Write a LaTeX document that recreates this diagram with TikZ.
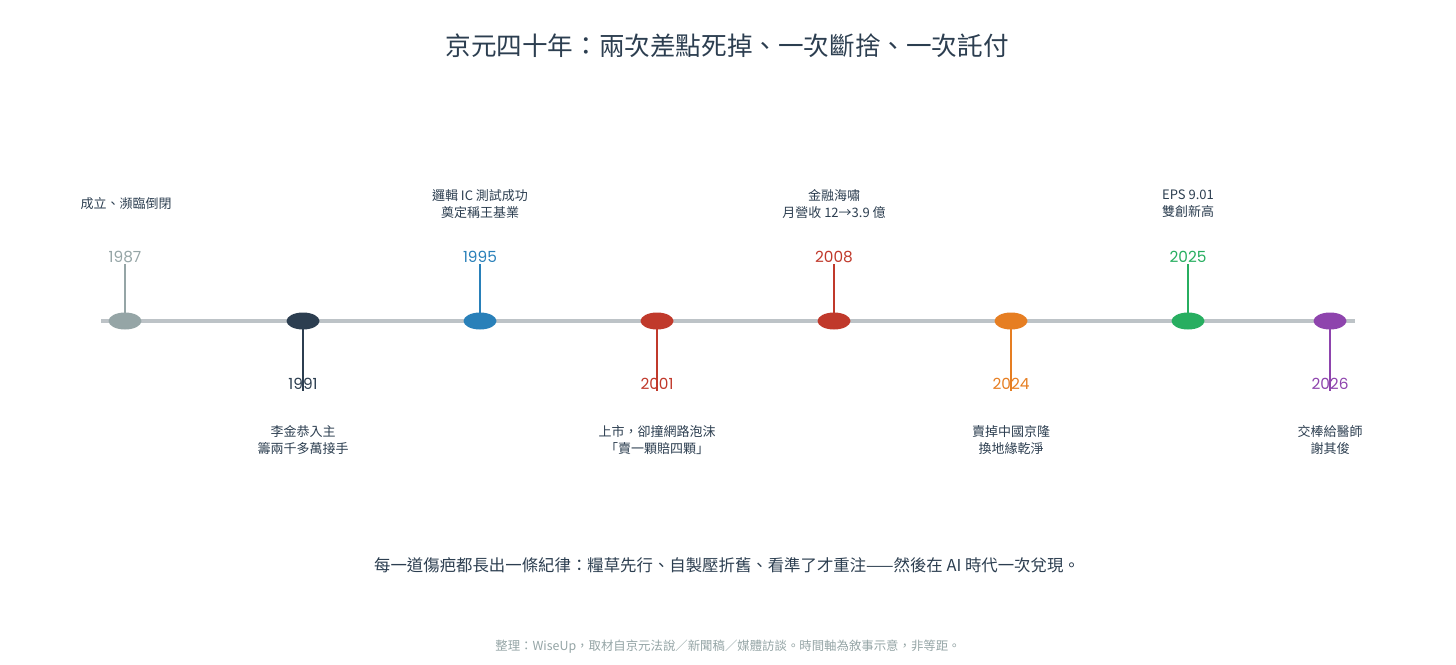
\documentclass[tikz,border=0pt]{standalone}
\usepackage{fontspec}
\setmainfont{Noto Sans CJK TC}
\newfontfamily\yearfont{Poppins}
\usetikzlibrary{positioning,shapes.geometric}
\definecolor{inkdark}{HTML}{2C3E50}
\definecolor{axisgray}{HTML}{BDC3C7}
\definecolor{notegray}{HTML}{95A5A6}
\definecolor{kygray}{HTML}{95A5A6}
\definecolor{kynavy}{HTML}{2C3E50}
\definecolor{kyblue}{HTML}{2980B9}
\definecolor{kyred}{HTML}{C0392B}
\definecolor{kyorange}{HTML}{E67E22}
\definecolor{kygreen}{HTML}{27AE60}
\definecolor{kypurple}{HTML}{8E44AD}
\tikzset{
    dot/.style={ellipse, fill=#1, inner sep=0pt,
                minimum width=24.75pt, minimum height=12.75pt},
    yr/.style={text=#1, inner sep=0.5pt, font=\yearfont\fontsize{11.5}{13}\selectfont},
    desc/.style={text=inkdark, align=center, inner sep=0pt,
                 font=\fontsize{9.75}{12.75}\selectfont},
    stem/.style={draw=#1, line width=1.5pt},
    axisline/.style={draw=axisgray, line width=3.5pt},
}

\begin{document}
\begin{tikzpicture}[x=0.75pt, y=-0.75pt]
    \useasboundingbox (0,0) rectangle (1456,664);

    % title
    \node[text=inkdark, font=\fontsize{19.2}{22}\selectfont] (title) at (727,46)
        {京元四十年：兩次差點死掉、一次斷捨、一次託付};

    % axis
    \coordinate (ax0) at (101,321);
    \coordinate (ax1) at (1355,321);
    \draw[axisline] (ax0) -- (ax1);

    % year labels
    \node[yr=kygray]   (y1987) at (125,257)  {1987};
    \node[yr=kynavy]   (y1991) at (303,384)  {1991};
    \node[yr=kyblue]   (y1995) at (480,257)  {1995};
    \node[yr=kyred]    (y2001) at (657,384)  {2001};
    \node[yr=kyred]    (y2008) at (834,257)  {2008};
    \node[yr=kyorange] (y2024) at (1011,384) {2024};
    \node[yr=kygreen]  (y2025) at (1188,257) {2025};
    \node[yr=kypurple] (y2026) at (1330,384) {2026};

    % markers on the axis
    \coordinate (c1987) at (125,321);
    \coordinate (c1991) at (303,321);
    \coordinate (c1995) at (480,321);
    \coordinate (c2001) at (657,321);
    \coordinate (c2008) at (834,321);
    \coordinate (c2024) at (1011,321);
    \coordinate (c2025) at (1188,321);
    \coordinate (c2026) at (1330,321);

    \draw[stem=kygray]   (c1987) -- (y1987.south);
    \draw[stem=kynavy]   (c1991) -- (y1991.south);
    \draw[stem=kyblue]   (c1995) -- (y1995.south);
    \draw[stem=kyred]    (c2001) -- (y2001.south);
    \draw[stem=kyred]    (c2008) -- (y2008.south);
    \draw[stem=kyorange] (c2024) -- (y2024.south);
    \draw[stem=kygreen]  (c2025) -- (y2025.south);
    \draw[stem=kypurple] (c2026) -- (y2026.south);

    \node[dot=kygray]   (m1987) at (c1987) {};
    \node[dot=kynavy]   (m1991) at (c1991) {};
    \node[dot=kyblue]   (m1995) at (c1995) {};
    \node[dot=kyred]    (m2001) at (c2001) {};
    \node[dot=kyred]    (m2008) at (c2008) {};
    \node[dot=kyorange] (m2024) at (c2024) {};
    \node[dot=kygreen]  (m2025) at (c2025) {};
    \node[dot=kypurple] (m2026) at (c2026) {};

    % event notes
    \node[desc] (d1987) at (126,204)  {成立、瀕臨倒閉};
    \node[desc] (d1991) at (303,440)  {李金恭入主\\籌兩千多萬接手};
    \node[desc] (d1995) at (480,204)  {邏輯 IC 測試成功\\奠定稱王基業};
    \node[desc] (d2001) at (657,440)  {上市，卻撞網路泡沫\\「賣一顆賠四顆」};
    \node[desc] (d2008) at (834,204)  {金融海嘯\\月營收 12→3.9 億};
    \node[desc] (d2024) at (1011,440) {賣掉中國京隆\\換地緣乾淨};
    \node[desc] (d2025) at (1188,204) {EPS 9.01\\雙創新高};
    \node[desc] (d2026) at (1330,440) {交棒給醫師\\謝其俊};

    % closing line and source note
    \node[text=inkdark, font=\fontsize{12.3}{14}\selectfont] (moral) at (727,565)
        {每一道傷疤都長出一條紀律：糧草先行、自製壓折舊、看準了才重注——然後在 AI 時代一次兌現。};
    \node[text=notegray, font=\fontsize{9.3}{11}\selectfont] (src) at (728,647)
        {整理：WiseUp，取材自京元法說／新聞稿／媒體訪談。時間軸為敘事示意，非等距。};
\end{tikzpicture}
\end{document}
